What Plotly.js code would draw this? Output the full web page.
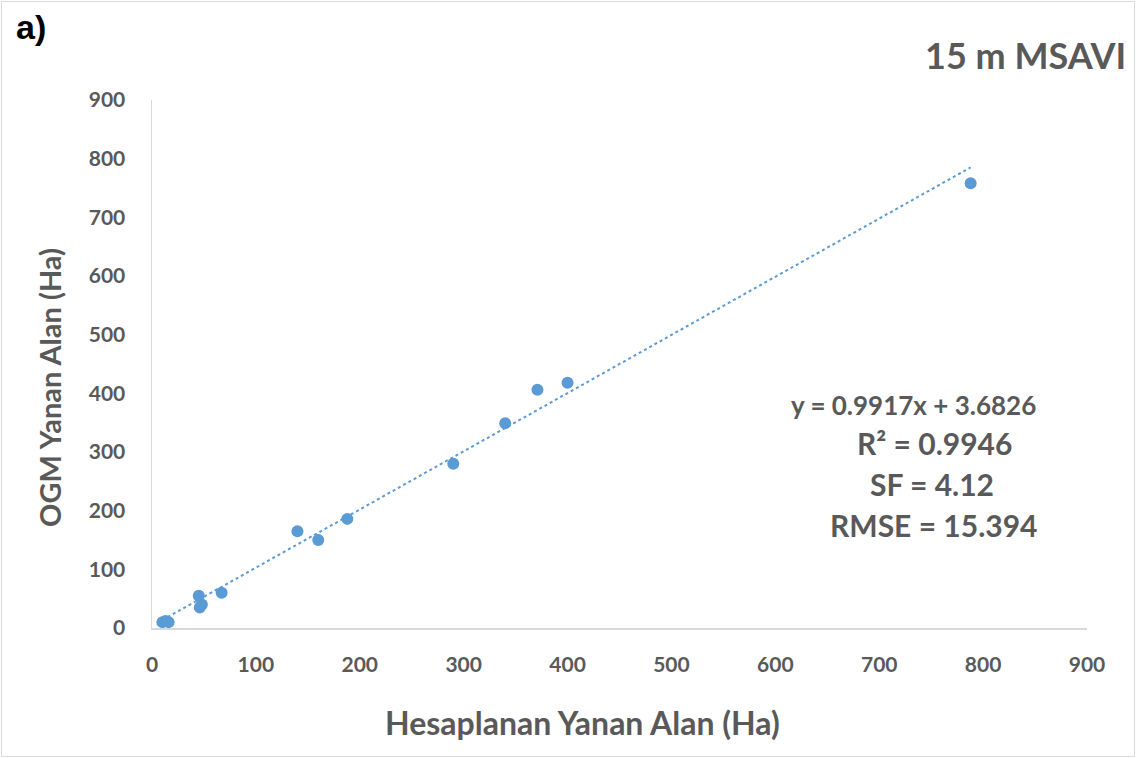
<!DOCTYPE html>
<html>
<head>
<meta charset="utf-8">
<script src="https://cdn.plot.ly/plotly-3.0.1.min.js"></script>
<style>
body{margin:0;padding:0;background:#fff;}
#wrap{position:relative;width:1136px;height:758px;}
#chart{width:1136px;height:758px;}
#frame{position:absolute;left:1px;top:1px;width:1132px;height:754px;border:1px solid #d9d9d9;pointer-events:none;}
</style>
</head>
<body>
<div id="wrap"><div id="chart"></div><div id="frame"></div></div>
<script>
// Data
const hesaplanan = [10, 16, 13, 45, 48, 46, 67, 140, 160, 188, 290, 340, 371, 400, 788];
const ogm        = [10, 10, 12, 55, 40, 35, 60, 165, 150, 186, 280, 349, 406, 418, 758];
const slope = 0.9917, intercept = 3.6826;
const trendX = [Math.min(...hesaplanan), Math.max(...hesaplanan)];
const trendY = trendX.map(x => slope * x + intercept);
const tickVals = [0, 100, 200, 300, 400, 500, 600, 700, 800, 900];
const statsLines = ["y = 0.9917x + 3.6826", "R² = 0.9946", "SF = 4.12", "RMSE = 15.394"];
const xTitle = 'Hesaplanan Yanan Alan (Ha)';
const yTitle = 'OGM Yanan Alan (Ha)';
const chartTitle = '15 m MSAVI';
const panelLabel = 'a)';

const grey = '#595959';
const fontFam = 'Lato, "Open Sans", sans-serif';

// plot area in pixels
const L = 152, R = 49, T = 100, B = 130, W = 1136, H = 758;
const pw = W - L - R, ph = H - T - B;
const px = x => (x - L) / pw;
const py = y => (H - B - y) / ph;

const traces = [
  {x: trendX, y: trendY, mode: 'lines', type: 'scatter',
   line: {color: '#5b9bd5', width: 2, dash: 'dot'}, hoverinfo: 'skip'},
  {x: hesaplanan, y: ogm, mode: 'markers', type: 'scatter',
   marker: {color: '#5b9bd5', size: 12}}
];

const axisCommon = {
  range: [0, 900], tickvals: tickVals, showgrid: false, zeroline: false,
  showline: true, linecolor: '#d9d9d9', linewidth: 1.5, ticks: '',
  tickfont: {family: fontFam, size: 21, color: grey, weight: 'bold'}
};

const statsX = [913, 934, 932, 933];
const statsY = [405, 443, 484, 525];
const statsSize = [26, 30, 30, 30];

const annotations = [
  {text: panelLabel, xref: 'paper', yref: 'paper', x: px(14), y: py(6),
   xanchor: 'left', yanchor: 'top', showarrow: false,
   font: {family: 'Liberation Sans, Arial, sans-serif', size: 34, color: '#000', weight: 'bold'}},
  {text: chartTitle, xref: 'paper', yref: 'paper', x: px(1128), y: py(55),
   xanchor: 'right', yanchor: 'middle', showarrow: false,
   font: {family: fontFam, size: 36, color: grey, weight: 'bold'}},
  {text: xTitle, xref: 'paper', yref: 'paper', x: px(582), y: py(722),
   xanchor: 'center', yanchor: 'middle', showarrow: false,
   font: {family: fontFam, size: 32, color: grey, weight: 'bold'}},
  {text: yTitle, xref: 'paper', yref: 'paper', x: px(49), y: py(388), textangle: -90,
   xanchor: 'center', yanchor: 'middle', showarrow: false,
   font: {family: fontFam, size: 29, color: grey, weight: 'bold'}}
];
statsLines.forEach((s, i) => annotations.push({
  text: s, xref: 'paper', yref: 'paper', x: px(statsX[i]), y: py(statsY[i]),
  xanchor: 'center', yanchor: 'middle', showarrow: false,
  font: {family: fontFam, size: statsSize[i], color: grey, weight: 'bold'}
}));

const layout = {
  width: W, height: H,
  margin: {l: L, r: R, t: T, b: B},
  paper_bgcolor: '#fff', plot_bgcolor: '#fff',
  showlegend: false,
  xaxis: Object.assign({}, axisCommon, {ticklabelstandoff: 17}),
  yaxis: Object.assign({}, axisCommon, {ticklabelstandoff: 21}),
  annotations: annotations
};

Plotly.newPlot('chart', traces, layout, {displayModeBar: false, staticPlot: true});
</script>
</body>
</html>
